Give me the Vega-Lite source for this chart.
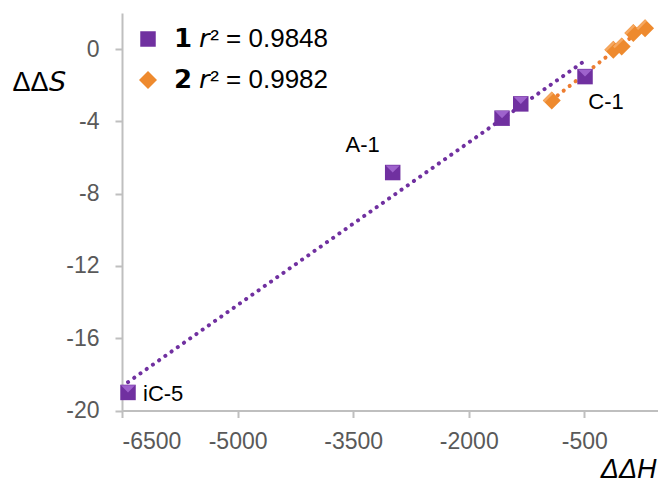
{
  "$schema": "https://vega.github.io/schema/vega-lite/v6.json",
  "width": 536,
  "height": 397.5,
  "autosize": {"type": "none"},
  "padding": {"left": 122, "top": 13, "right": 0, "bottom": 78.5},
  "background": "white",
  "config": {
    "view": {"stroke": null},
    "font": "Liberation Sans",
    "axis": {
      "grid": false,
      "domainColor": "#BFBFBF",
      "domainWidth": 2,
      "tickColor": "#BFBFBF",
      "tickWidth": 2,
      "tickSize": 7,
      "labelFont": "Liberation Sans",
      "labelFontSize": 23,
      "labelColor": "#595959",
      "labelExpr": "'' + datum.value",
      "titleFont": "Liberation Sans",
      "titleFontWeight": "normal",
      "titleColor": "#000000",
      "titleFontSize": 27
    }
  },
  "data": {
    "values": [
      {"series": "1", "x": -6422, "y": -19.0, "label": "iC-5"},
      {"series": "1", "x": -2987, "y": -6.83, "label": "A-1"},
      {"series": "1", "x": -1568, "y": -3.82, "label": ""},
      {"series": "1", "x": -1325, "y": -3.03, "label": ""},
      {"series": "1", "x": -491, "y": -1.52, "label": "C-1"},
      {"series": "2", "x": -923, "y": -2.84, "label": ""},
      {"series": "2", "x": -124, "y": -0.04, "label": ""},
      {"series": "2", "x": -15, "y": 0.14, "label": ""},
      {"series": "2", "x": 136, "y": 0.89, "label": ""},
      {"series": "2", "x": 288, "y": 1.16, "label": ""}
    ]
  },
  "encoding": {
    "x": {
      "field": "x", "type": "quantitative",
      "scale": {"domain": [-6500, 456], "nice": false, "zero": false},
      "axis": {
        "values": [-6500, -5000, -3500, -2000, -500],
        "labelPadding": 13,
        "title": "ΔΔH",
        "titleFontStyle": "italic",
        "titleAnchor": "end",
        "titleAlign": "right",
        "titleX": 534,
        "titleY": 73,
        "titleBaseline": "bottom"
      }
    },
    "y": {
      "field": "y", "type": "quantitative",
      "scale": {"domain": [-20, 2], "nice": false, "zero": false},
      "axis": {
        "values": [-20, -16, -12, -8, -4, 0],
        "labelPadding": 16,
        "title": "ΔΔ𝘚",
        "titleFontStyle": "normal",
        "titleAngle": 0,
        "titleAlign": "left",
        "titleBaseline": "middle",
        "titleX": -110,
        "titleY": 69
      }
    }
  },
  "layer": [
    {
      "transform": [{"regression": "y", "on": "x", "groupby": ["series"]}],
      "mark": {"type": "line", "strokeWidth": 4, "strokeDash": [0.1, 7.5], "strokeCap": "round"},
      "encoding": {
        "detail": {"field": "series", "type": "nominal"},
        "stroke": {
          "condition": {"test": "datum.series == '2'", "value": "#ED7D31"},
          "value": "#7030A0"
        }
      }
    },
    {
      "mark": {"type": "point", "filled": true, "opacity": 1, "strokeWidth": 0},
      "encoding": {
        "color": {
          "field": "series", "type": "nominal",
          "scale": {"domain": ["1", "2"], "range": ["#7030A0", "#EE8A2E"]},
          "legend": {
            "orient": "top-left",
            "offset": 13,
            "title": null,
            "padding": 0,
            "symbolSize": 300,
            "labelFontSize": 26,
            "labelColor": "#000000",
            "labelOffset": 13,
            "labelLimit": 400,
            "rowPadding": 15,
            "labelExpr": "datum.label == '1' ? '𝟭  𝘳² = 0.9848' : '𝟮  𝘳² = 0.9982'",
            "encode": {
              "symbols": {
                "update": {
                  "fill": {"signal": "datum.value == '1' ? '#7030A0' : '#FFC000'"},
                  "opacity": {"value": 1}
                }
              }
            }
          }
        },
        "shape": {
          "field": "series", "type": "nominal",
          "scale": {"domain": ["1", "2"], "range": ["square", "diamond"]}
        },
        "size": {
          "field": "series", "type": "nominal",
          "scale": {"domain": ["1", "2"], "range": [240, 324]},
          "legend": null
        }
      }
    },
    {
      "transform": [{"filter": "datum.series == '1'"}],
      "mark": {"type": "point", "filled": true, "opacity": 1, "size": 200, "color": "#9E62CC",
               "shape": "M-1,-1L1,-1L0,0Z"},
      "encoding": {}
    },
    {
      "transform": [{"filter": "datum.series == '2'"}],
      "mark": {"type": "point", "filled": true, "opacity": 1, "size": 300, "color": "#F6A860",
               "shape": "M-1,0L0,-1L0.2,-0.8L-0.8,0.2Z"},
      "encoding": {}
    },
    {
      "transform": [{"filter": "datum.label == 'iC-5'"}],
      "mark": {"type": "text", "fontSize": 22, "align": "left", "baseline": "middle", "dx": 15, "dy": 2, "color": "#000000"},
      "encoding": {"text": {"field": "label"}}
    },
    {
      "transform": [{"filter": "datum.label == 'A-1'"}],
      "mark": {"type": "text", "fontSize": 22, "align": "center", "baseline": "middle", "dx": -30, "dy": -28, "color": "#000000"},
      "encoding": {"text": {"field": "label"}}
    },
    {
      "transform": [{"filter": "datum.label == 'C-1'"}],
      "mark": {"type": "text", "fontSize": 22, "align": "center", "baseline": "middle", "dx": 21, "dy": 25, "color": "#000000"},
      "encoding": {"text": {"field": "label"}}
    }
  ]
}
